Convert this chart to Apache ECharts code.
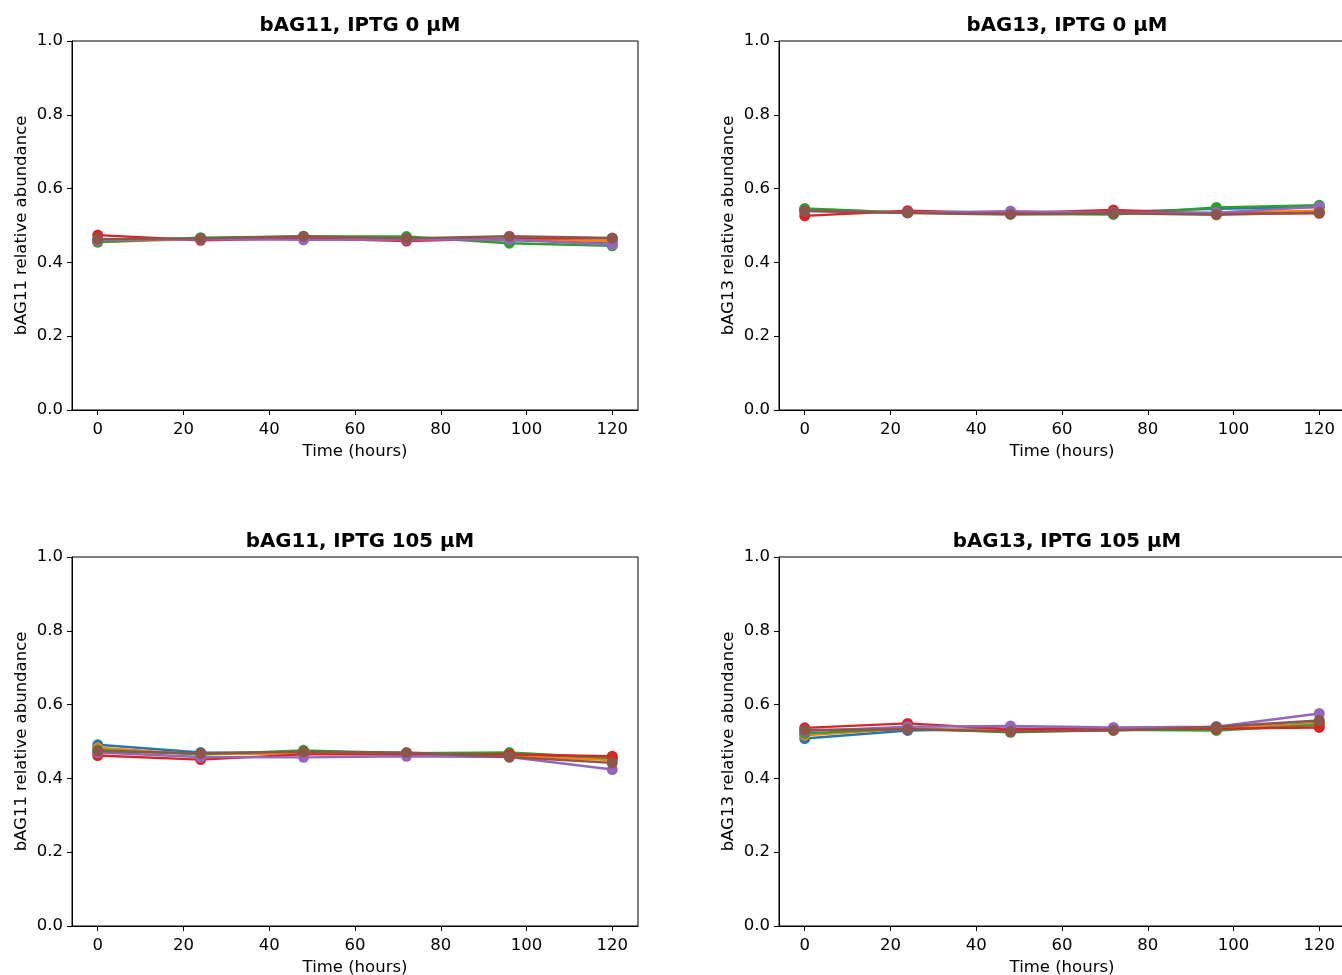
<!DOCTYPE html>
<html>
<head>
<meta charset="utf-8">
<script src="https://cdn.jsdelivr.net/npm/echarts@6/dist/echarts.min.js"></script>
<style>html,body{margin:0;padding:0;background:#fff}#c{width:1342px;height:975px}</style>
</head>
<body>
<div id="c"></div>
<script>
const hours = [0, 24, 48, 72, 96, 120];
const xTicks = [0, 20, 40, 60, 80, 100, 120];
const yTicks = [0, 0.2, 0.4, 0.6, 0.8, 1.0];
const panelTitles = ['bAG11, IPTG 0 µM', 'bAG13, IPTG 0 µM', 'bAG11, IPTG 105 µM', 'bAG13, IPTG 105 µM'];
const yLabels = ['bAG11 relative abundance', 'bAG13 relative abundance', 'bAG11 relative abundance', 'bAG13 relative abundance'];
const xLabel = 'Time (hours)';
const colors = ['#1f77b4', '#ff7f0e', '#2ca02c', '#d62728', '#9467bd', '#8c564b'];

// Panel 1: bAG11, IPTG 0
const p1_blue   = [0.460, 0.465, 0.468, 0.463, 0.460, 0.455];
const p1_orange = [0.455, 0.463, 0.468, 0.465, 0.462, 0.458];
const p1_green  = [0.455, 0.467, 0.470, 0.470, 0.452, 0.445];
const p1_red    = [0.474, 0.460, 0.465, 0.458, 0.465, 0.465];
const p1_purple = [0.460, 0.463, 0.461, 0.462, 0.462, 0.448];
const p1_brown  = [0.463, 0.465, 0.471, 0.465, 0.471, 0.466];
// Panel 2: bAG13, IPTG 0
const p2_blue   = [0.540, 0.535, 0.532, 0.537, 0.545, 0.550];
const p2_orange = [0.545, 0.535, 0.537, 0.533, 0.535, 0.540];
const p2_green  = [0.546, 0.535, 0.532, 0.530, 0.549, 0.555];
const p2_red    = [0.526, 0.540, 0.533, 0.542, 0.532, 0.533];
const p2_purple = [0.540, 0.535, 0.539, 0.535, 0.535, 0.551];
const p2_brown  = [0.540, 0.534, 0.530, 0.533, 0.529, 0.535];
// Panel 3: bAG11, IPTG 105
const p3_blue   = [0.491, 0.470, 0.468, 0.465, 0.462, 0.453];
const p3_orange = [0.483, 0.465, 0.468, 0.468, 0.460, 0.450];
const p3_green  = [0.477, 0.465, 0.476, 0.468, 0.470, 0.455];
const p3_red    = [0.462, 0.451, 0.465, 0.465, 0.465, 0.460];
const p3_purple = [0.470, 0.458, 0.457, 0.460, 0.458, 0.424];
const p3_brown  = [0.474, 0.468, 0.472, 0.470, 0.458, 0.442];
// Panel 4: bAG13, IPTG 105
const p4_blue   = [0.508, 0.530, 0.535, 0.536, 0.535, 0.550];
const p4_orange = [0.517, 0.535, 0.530, 0.533, 0.535, 0.548];
const p4_green  = [0.522, 0.535, 0.525, 0.532, 0.530, 0.545];
const p4_red    = [0.537, 0.549, 0.533, 0.533, 0.535, 0.538];
const p4_purple = [0.528, 0.540, 0.542, 0.538, 0.540, 0.576];
const p4_brown  = [0.531, 0.533, 0.527, 0.530, 0.540, 0.557];

const panels = [
  [p1_blue, p1_orange, p1_green, p1_red, p1_purple, p1_brown],
  [p2_blue, p2_orange, p2_green, p2_red, p2_purple, p2_brown],
  [p3_blue, p3_orange, p3_green, p3_red, p3_purple, p3_brown],
  [p4_blue, p4_orange, p4_green, p4_red, p4_purple, p4_brown]
];

const FONT = 'DejaVu Sans';
const FS = 16.5;
const gridPos = [
  {left: 72, top: 41}, {left: 779, top: 41},
  {left: 72, top: 557}, {left: 779, top: 557}
];
const W = 566, H = 369;

const option = {
  animation: false,
  backgroundColor: '#fff',
  textStyle: {fontFamily: FONT},
  title: panelTitles.map((t, i) => ({
    text: t,
    left: gridPos[i].left + W / 2,
    top: gridPos[i].top - 30,
    textAlign: 'center',
    textStyle: {fontFamily: FONT, fontWeight: 'bold', fontSize: 19.8, color: '#000'}
  })),
  grid: gridPos.map(g => ({
    left: g.left, top: g.top, width: W, height: H,
    outerBoundsMode: 'none', containLabel: false,
    show: true, borderColor: '#000', borderWidth: 1, backgroundColor: 'transparent'
  })),
  xAxis: gridPos.map((g, i) => ({
    type: 'value', gridIndex: i, min: -6, max: 126,
    name: xLabel, nameLocation: 'middle', nameGap: 33,
    nameTextStyle: {fontFamily: FONT, fontSize: FS, color: '#000'},
    axisLine: {show: true, onZero: false, lineStyle: {color: '#000', width: 1}},
    axisTick: {show: true, inside: false, length: 5, lineStyle: {color: '#000'}, customValues: xTicks},
    axisLabel: {fontFamily: FONT, fontSize: FS, color: '#000', margin: 11, customValues: xTicks},
    splitLine: {show: false}
  })),
  yAxis: gridPos.map((g, i) => ({
    type: 'value', gridIndex: i, min: 0, max: 1, interval: 0.2,
    name: yLabels[i], nameLocation: 'middle', nameGap: 42,
    nameTextStyle: {fontFamily: FONT, fontSize: FS, color: '#000'},
    axisLine: {show: true, onZero: false, lineStyle: {color: '#000', width: 1}},
    axisTick: {show: true, inside: false, length: 5, lineStyle: {color: '#000'}},
    axisLabel: {fontFamily: FONT, fontSize: FS, color: '#000', margin: 9, formatter: v => v.toFixed(1)},
    splitLine: {show: false}
  })),
  series: []
};

panels.forEach((set, pi) => {
  set.forEach((vals, si) => {
    option.series.push({
      type: 'line',
      xAxisIndex: pi, yAxisIndex: pi,
      data: hours.map((h, k) => [h, vals[k]]),
      symbol: 'circle', symbolSize: 11,
      showSymbol: true,
      lineStyle: {color: colors[si], width: 2.4},
      itemStyle: {color: colors[si], borderWidth: 0},
      z: 2 + si
    });
  });
});

const chart = echarts.init(document.getElementById('c'), null, {renderer: 'canvas'});
chart.setOption(option);
</script>
</body>
</html>
